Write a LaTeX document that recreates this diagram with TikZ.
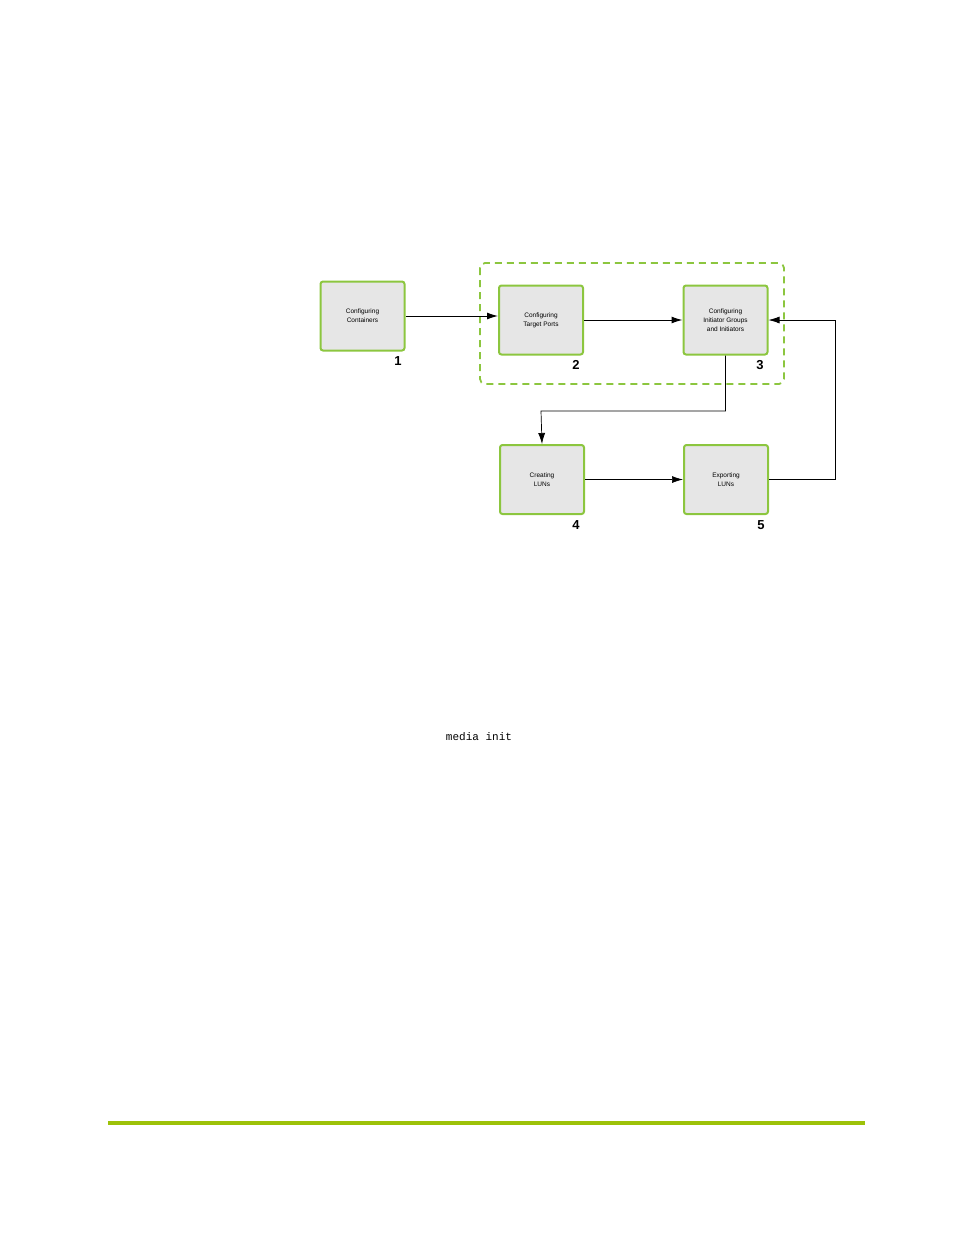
\documentclass[tikz,border=0pt]{standalone}
\usepackage{fontspec}
\setmainfont{Liberation Sans}
\setmonofont{Liberation Mono}
\usetikzlibrary{arrows.meta}
\definecolor{gr}{HTML}{8CC63F}
\definecolor{bar}{HTML}{9DC209}
\definecolor{bx}{HTML}{E6E6E6}
\tikzset{
 x=1pt,y=-1pt,
 stepbox/.style={draw=gr,line width=2pt,fill=bx,rounded corners=2.5pt,minimum width=84pt,minimum height=69pt,align=center,font=\fontsize{6.5}{9}\selectfont,inner sep=0pt},
 num/.style={font=\fontsize{13}{13}\selectfont\bfseries,inner sep=0pt},
 arr/.style={-{Latex[length=11pt,width=7pt]},line width=1pt},
 arrt/.style={-{Latex[length=11pt,width=7pt]},line width=0.7pt}
}
\begin{document}
\begin{tikzpicture}
\useasboundingbox (0,0) rectangle (954,1235);
\draw[gr,dashed,dash pattern=on 7pt off 5pt,line width=1.8pt,rounded corners=5pt] (480,263) rectangle (784,384);
\node[stepbox] (n1) at (362.5,316) {Configuring\\Containers};
\node[stepbox] (n2) at (541,320) {Configuring\\Target Ports};
\node[stepbox] (n3) at (725.5,320) {Configuring\\Initiator Groups\\and Initiators};
\node[stepbox] (n4) at (542,479.5) {Creating\\LUNs};
\node[stepbox] (n5) at (726,479.5) {Exporting\\LUNs};
\node[num] (l1) at (398,361) {1};
\node[num] (l2) at (576,365) {2};
\node[num] (l3) at (760,365) {3};
\node[num] (l4) at (576,525) {4};
\node[num] (l5) at (761,525) {5};
\draw[arr] (n1.east) -- (n1.east -| n2.west);
\draw[arr] (n2.east) -- (n3.west);
\draw[arrt] (n3.south) |- (541,411) -- (n4.north);
\draw[arrt] (n4.east) -- (n5.west);
\draw[arrt] (n5.east) -- (835,479.5) |- (n3.east);
\node[font=\ttfamily\fontsize{11}{11}\selectfont] (cmd) at (479,737) {media init};
\draw[bar,line width=4pt] (108,1123) -- (865,1123);
\end{tikzpicture}
\end{document}
